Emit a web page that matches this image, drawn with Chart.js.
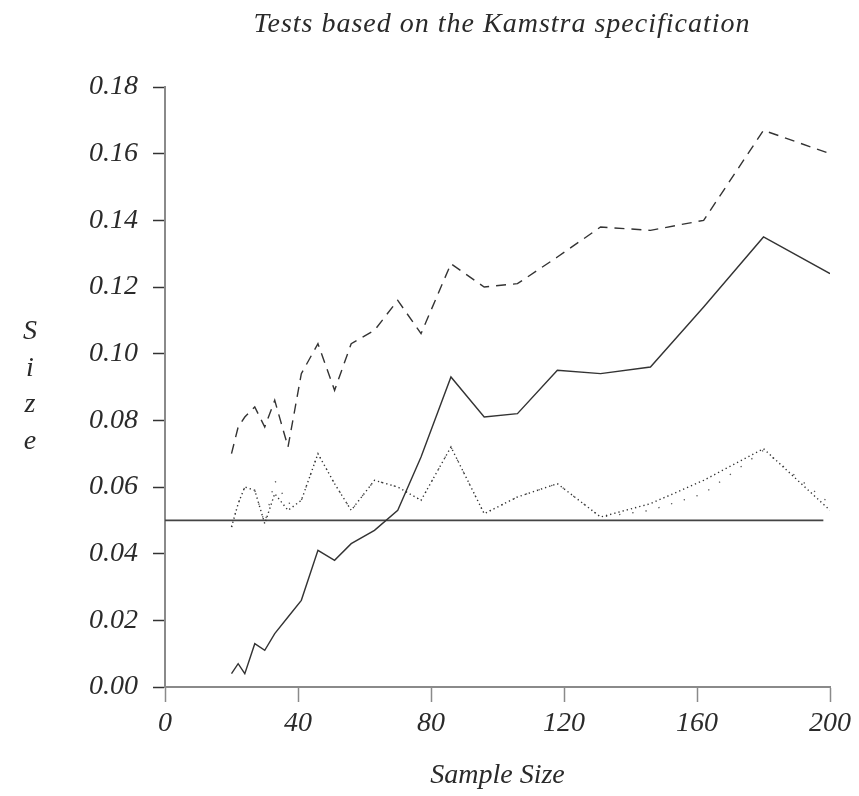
<!DOCTYPE html>
<html lang="en">
<head>
    <meta charset="UTF-8">
    <title>Tests based on the Kamstra specification</title>
    <style>
        body { margin: 0; background: #fff; }
        #sizeChart { display: block; }
    </style>
</head>
<body>
    <canvas id="sizeChart" width="859" height="796"></canvas>

    <script src="https://cdn.jsdelivr.net/npm/chart.js@4.4.0/dist/chart.umd.min.js"></script>
    <script>
        // data
        var sampleSizes = [20, 22, 24, 27, 30, 33, 37, 41, 46, 51, 56, 63, 70, 77, 86, 96, 106, 118, 131, 146, 162, 180, 200];

        var sizeSolid  = [0.004, 0.007, 0.004, 0.013, 0.011, 0.016, 0.021, 0.026, 0.041, 0.038, 0.043, 0.047, 0.053, 0.069, 0.093, 0.081, 0.082, 0.095, 0.094, 0.096, 0.114, 0.135, 0.124];
        var sizeDashed = [0.070, 0.078, 0.081, 0.084, 0.078, 0.086, 0.072, 0.094, 0.103, 0.089, 0.103, 0.107, 0.116, 0.106, 0.127, 0.120, 0.121, 0.129, 0.138, 0.137, 0.140, 0.167, 0.160];
        var sizeDotted = [0.048, 0.055, 0.060, 0.059, 0.049, 0.058, 0.053, 0.056, 0.070, 0.061, 0.053, 0.062, 0.060, 0.056, 0.072, 0.052, 0.057, 0.061, 0.051, 0.055, 0.062, 0.0715, 0.053];
        var sizeSparse = [0.048, 0.055, 0.060, 0.059, 0.049, 0.062, 0.055, 0.056, 0.070, 0.061, 0.053, 0.062, 0.060, 0.056, 0.072, 0.052, 0.057, 0.061, 0.051, 0.053, 0.058, 0.071, 0.055];

        // nominal 5% level
        var nominalX = [0, 198];
        var nominalY = [0.05, 0.05];

        var xTicks = [0, 40, 80, 120, 160, 200];
        var yTicks = [0.00, 0.02, 0.04, 0.06, 0.08, 0.10, 0.12, 0.14, 0.16, 0.18];

        var chartTitle = 'Tests based on the Kamstra specification';
        var xTitle = 'Sample Size';
        var yTitle = 'Size';

        var fontFamily = '"Liberation Serif", "DejaVu Serif", serif';
        var ink = '#2a2a2a';
        var axisGray = '#8a8a8a';

        function toPoints(xs, ys) {
            return xs.map(function (x, i) { return { x: x, y: ys[i] }; });
        }

        function lineSet(values, dash, width, color) {
            return {
                data: toPoints(sampleSizes, values),
                borderColor: color || '#333',
                borderWidth: width || 1.4,
                borderDash: dash,
                pointRadius: 0,
                tension: 0,
                fill: false
            };
        }

        // title above and stacked letters on the left
        var textPlugin = {
            id: 'textPlugin',
            afterDraw: function (chart) {
                var ctx = chart.ctx;
                ctx.save();
                ctx.fillStyle = ink;
                ctx.font = 'italic 28px ' + fontFamily;
                ctx.textAlign = 'center';
                ctx.textBaseline = 'alphabetic';
                ctx.letterSpacing = '1px';
                ctx.fillText(chartTitle, 502, 32);
                ctx.letterSpacing = '0px';
                yTitle.split('').forEach(function (ch, i) {
                    ctx.fillText(ch, 30, 339 + i * 36.7);
                });
                ctx.restore();
            }
        };

        var tickFont = { family: fontFamily, size: 28, style: 'italic' };

        new Chart(document.getElementById('sizeChart'), {
            type: 'line',
            data: {
                datasets: [
                    lineSet(sizeDashed, [10, 7]),
                    lineSet(sizeSolid, []),
                    lineSet(sizeDotted, [1.3, 3]),
                    lineSet(sizeSparse, [1.3, 12], 1.3, '#555'),
                    {
                        data: toPoints(nominalX, nominalY),
                        borderColor: '#444',
                        borderWidth: 1.6,
                        pointRadius: 0,
                        fill: false
                    }
                ]
            },
            options: {
                responsive: false,
                devicePixelRatio: 1,
                animation: false,
                layout: { padding: { left: 0, right: 29, top: 87, bottom: 0 } },
                plugins: {
                    legend: { display: false },
                    tooltip: { enabled: false }
                },
                scales: {
                    x: {
                        type: 'linear',
                        min: 0,
                        max: 200,
                        afterBuildTicks: function (scale) {
                            scale.ticks = xTicks.map(function (v) { return { value: v }; });
                        },
                        afterFit: function (scale) { scale.height = 109; },
                        border: { color: axisGray, width: 2 },
                        grid: {
                            drawOnChartArea: false,
                            tickLength: 15,
                            tickColor: axisGray,
                            tickWidth: 1.5
                        },
                        ticks: {
                            font: tickFont,
                            color: ink,
                            padding: 5,
                            maxRotation: 0,
                            callback: function (v) { return String(v); }
                        },
                        title: {
                            display: true,
                            text: xTitle,
                            font: tickFont,
                            color: ink,
                            padding: { top: 0, bottom: 4 }
                        }
                    },
                    y: {
                        min: 0,
                        max: 0.18,
                        afterBuildTicks: function (scale) {
                            scale.ticks = yTicks.map(function (v) { return { value: v }; });
                        },
                        afterFit: function (scale) { scale.width = 165; },
                        border: { color: axisGray, width: 2 },
                        grid: {
                            drawOnChartArea: false,
                            tickLength: 12,
                            tickColor: '#333',
                            tickWidth: 1.5
                        },
                        ticks: {
                            font: tickFont,
                            color: ink,
                            padding: 15,
                            callback: function (v) { return v.toFixed(2); }
                        }
                    }
                }
            },
            plugins: [textPlugin]
        });
    </script>
</body>
</html>
